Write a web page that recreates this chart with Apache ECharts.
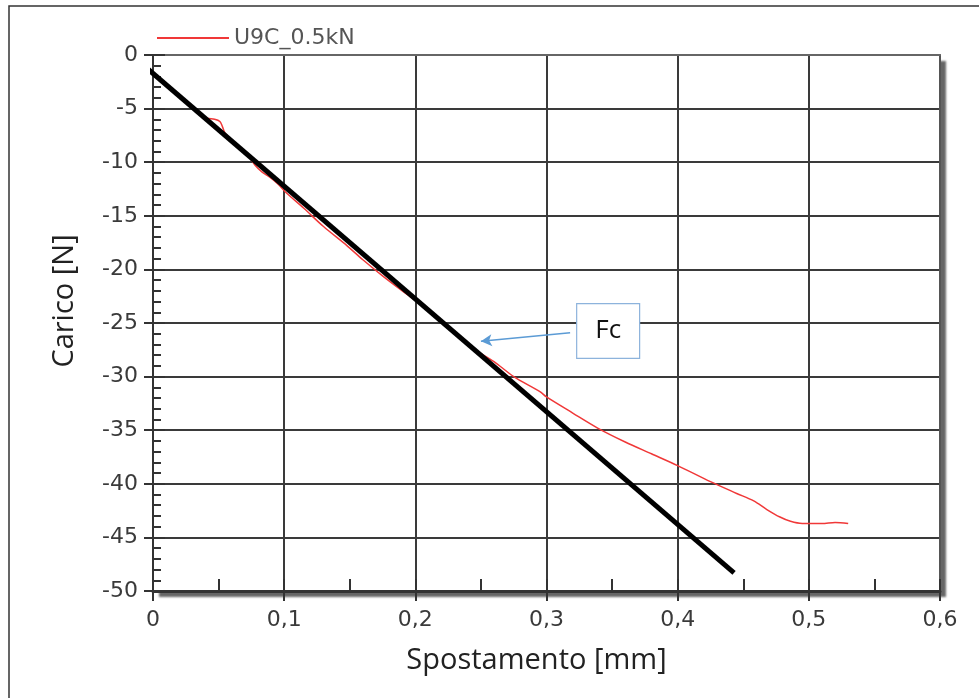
<!DOCTYPE html>
<html>
<head>
<meta charset="utf-8">
<script src="https://cdn.jsdelivr.net/npm/echarts@6/dist/echarts.min.js"></script>
<style>html,body{margin:0;padding:0;background:#fff;}#c{width:979px;height:698px;}</style>
</head>
<body>
<div id="c"></div>
<script>
// Red measured curve U9C_0.5kN: displacement [mm] and load [N]
var redX = [0.040, 0.047, 0.051, 0.053, 0.055, 0.063, 0.072, 0.078, 0.083, 0.089, 0.095, 0.102, 0.115, 0.130, 0.148, 0.160, 0.175, 0.190, 0.200, 0.220, 0.242, 0.260, 0.275, 0.295, 0.300, 0.320, 0.339, 0.360, 0.380, 0.400, 0.425, 0.445, 0.458, 0.468, 0.478, 0.486, 0.495, 0.510, 0.520, 0.530];
var redY = [-5.9, -6.0, -6.2, -6.7, -7.3, -8.3, -9.3, -10.3, -10.9, -11.4, -12.0, -12.9, -14.3, -16.0, -17.8, -19.1, -20.6, -22.0, -22.9, -24.8, -27.2, -28.6, -30.0, -31.4, -31.9, -33.4, -34.8, -36.1, -37.2, -38.3, -39.8, -40.9, -41.6, -42.4, -43.1, -43.5, -43.7, -43.7, -43.6, -43.7];
// Black tangent line
var lineX = [-0.004, 0.443];
var lineY = [-1.3, -48.3];
// Axis ranges / tick steps
var xTicks = [0, 0.1, 0.2, 0.3, 0.4, 0.5, 0.6];
var yTicks = [0, -5, -10, -15, -20, -25, -30, -35, -40, -45, -50];
// Annotation "Fc": box corners and arrow (tail -> head) in data coords
var fcBox = [[0.323, -23.2], [0.371, -28.3]];
var fcArrow = [[0.318, -25.9], [0.250, -26.7]];

var redData = redX.map(function (x, i) { return [x, redY[i]]; });
var lineData = lineX.map(function (x, i) { return [x, lineY[i]]; });
var xMin = xTicks[0], xMax = xTicks[xTicks.length - 1];
var yMin = yTicks[yTicks.length - 1], yMax = yTicks[0];

var chart = echarts.init(document.getElementById('c'));
var tickFont = 'DejaVu Sans';
var titleFont = 'Open Sans';
var gridPos = { left: 153, right: 39, top: 55, bottom: 107 };
var hidden = { axisLine: { show: false, onZero: false }, axisLabel: { show: false }, splitLine: { show: false }, axisTick: { show: false } };
function ext(a) { return Object.assign({}, hidden, a); }

chart.setOption({
  animation: false,
  backgroundColor: '#fff',
  graphic: [{
    type: 'rect', shape: { x: 9, y: 6, width: 1200, height: 1200 },
    style: { fill: 'none', stroke: '#333', lineWidth: 1.5 }, silent: true, z: 100
  }],
  legend: {
    left: 152, top: 22, data: ['U9C_0.5kN'], icon: 'rect',
    itemWidth: 72, itemHeight: 2, itemGap: 10,
    textStyle: { color: '#555', fontSize: 22, fontFamily: tickFont }
  },
  grid: [Object.assign({
    show: true, backgroundColor: '#fff', borderWidth: 0,
    shadowColor: 'rgba(0,0,0,0.6)', shadowOffsetX: 6, shadowOffsetY: 6, shadowBlur: 2
  }, gridPos), Object.assign({ show: false }, gridPos)],
  xAxis: [{
    gridIndex: 0, type: 'value', min: xMin, max: xMax, interval: 0.1, position: 'bottom',
    name: 'Spostamento [mm]', nameLocation: 'middle', nameGap: 55,
    nameTextStyle: { fontSize: 29, color: '#222', fontFamily: titleFont, padding: [0, 20, 0, 0] },
    axisLine: { show: true, onZero: false, lineStyle: { color: '#333', width: 3 } },
    axisTick: { show: true, inside: false, length: 10, lineStyle: { color: '#333', width: 2 } },
    axisLabel: { margin: 18, fontSize: 22, color: '#3a3a3a', fontFamily: tickFont,
      formatter: function (v) { return String(+v.toFixed(2)).replace('.', ','); } },
    splitLine: { show: true, lineStyle: { color: '#3a3a3a', width: 2 } }
  }, ext({
    gridIndex: 1, type: 'value', min: xMin, max: xMax, interval: 0.05, position: 'bottom',
    axisTick: { show: true, inside: true, length: 12, lineStyle: { color: '#333', width: 2 } }
  }), ext({
    gridIndex: 1, type: 'value', min: xMin, max: xMax, interval: 0.1, position: 'top',
    axisLine: { show: true, onZero: false, lineStyle: { color: '#666', width: 2 } }
  })],
  yAxis: [{
    gridIndex: 0, type: 'value', min: yMin, max: yMax, interval: 5, position: 'left',
    name: 'Carico [N]', nameLocation: 'middle', nameGap: 74,
    nameTextStyle: { fontSize: 29, color: '#222', fontFamily: titleFont, padding: [0, 0, 0, 44] },
    axisLine: { show: true, onZero: false, lineStyle: { color: '#333', width: 2 } },
    axisTick: { show: true, inside: false, length: 9, lineStyle: { color: '#333', width: 2 } },
    axisLabel: { margin: 15, fontSize: 22, color: '#3a3a3a', fontFamily: tickFont },
    splitLine: { show: true, lineStyle: { color: '#3a3a3a', width: 2 } }
  }, ext({
    gridIndex: 1, type: 'value', min: yMin, max: yMax, interval: 5, position: 'left',
    axisTick: { show: true, inside: true, length: 12, lineStyle: { color: '#333', width: 2 } },
    minorTick: { show: true, splitNumber: 5, length: 8, lineStyle: { color: '#333', width: 2 } }
  }), ext({
    gridIndex: 1, type: 'value', min: yMin, max: yMax, interval: 5, position: 'right',
    axisLine: { show: true, onZero: false, lineStyle: { color: '#555', width: 2 } }
  })],
  series: [{
    name: 'U9C_0.5kN', type: 'line', xAxisIndex: 0, yAxisIndex: 0, data: redData,
    showSymbol: false, symbol: 'none',
    smooth: 0.3, color: '#f03838', lineStyle: { color: '#f03838', width: 1.5 }, z: 3
  }, {
    name: 'tangent', type: 'line', xAxisIndex: 0, yAxisIndex: 0, data: lineData,
    showSymbol: false, symbol: 'none',
    clip: false, color: '#000', lineStyle: { color: '#000', width: 5 }, z: 4,
    markArea: {
      silent: true,
      itemStyle: { color: '#fff', borderColor: '#8db3dc', borderWidth: 1.2 },
      label: { show: true, position: 'inside', formatter: 'Fc', fontSize: 26, color: '#111', fontFamily: titleFont },
      data: [[{ coord: fcBox[0] }, { coord: fcBox[1] }]]
    },
    markLine: {
      silent: true, symbol: ['none', 'arrow'], symbolSize: [9, 11],
      lineStyle: { color: '#5b9bd5', width: 1.5, type: 'solid' },
      label: { show: false },
      data: [[{ coord: fcArrow[0] }, { coord: fcArrow[1] }]]
    }
  }]
});
</script>
</body>
</html>
